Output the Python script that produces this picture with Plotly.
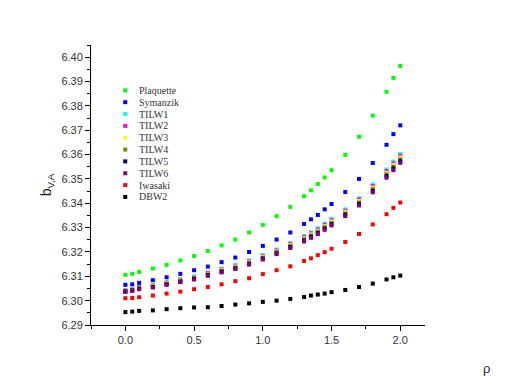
import plotly.graph_objects as go

rho = [0.0, 0.05, 0.1, 0.2, 0.3, 0.4, 0.5, 0.6, 0.7, 0.8, 0.9, 1.0, 1.1, 1.2,
       1.3, 1.35, 1.4, 1.45, 1.5, 1.6, 1.7, 1.8, 1.9, 1.95, 2.0]

plaquette = [6.3106, 6.3110, 6.3118, 6.3132, 6.3147, 6.3165, 6.3183, 6.3204, 6.3227,
             6.3251, 6.3280, 6.3311, 6.3347, 6.3385, 6.3429, 6.3453, 6.3479, 6.3506,
             6.3536, 6.3599, 6.3673, 6.3760, 6.3858, 6.3915, 6.3964]
symanzik = [6.3065, 6.3067, 6.3073, 6.3084, 6.3096, 6.3110, 6.3125, 6.3140, 6.3158,
            6.3177, 6.3200, 6.3225, 6.3251, 6.3280, 6.3315, 6.3334, 6.3352, 6.3375,
            6.3397, 6.3446, 6.3500, 6.3565, 6.3640, 6.3684, 6.3720]
tilw1 = [6.3044, 6.3048, 6.3056, 6.3064, 6.3076, 6.3088, 6.3100, 6.3116, 6.3131,
         6.3146, 6.3165, 6.3187, 6.3210, 6.3236, 6.3265, 6.3281, 6.3297, 6.3316,
         6.3335, 6.3375, 6.3421, 6.3477, 6.3539, 6.3571, 6.3602]
tilw2 = [6.3042, 6.3046, 6.3054, 6.3062, 6.3074, 6.3086, 6.3097, 6.3113, 6.3128,
         6.3143, 6.3162, 6.3183, 6.3206, 6.3232, 6.3261, 6.3276, 6.3292, 6.3311,
         6.3330, 6.3369, 6.3415, 6.3471, 6.3532, 6.3564, 6.3595]
tilw3 = [6.3041, 6.3045, 6.3052, 6.3060, 6.3072, 6.3083, 6.3095, 6.3110, 6.3125,
         6.3140, 6.3158, 6.3180, 6.3202, 6.3228, 6.3256, 6.3272, 6.3287, 6.3306,
         6.3325, 6.3364, 6.3409, 6.3464, 6.3525, 6.3557, 6.3588]
tilw4 = [6.3039, 6.3043, 6.3051, 6.3058, 6.3069, 6.3081, 6.3092, 6.3108, 6.3122,
         6.3136, 6.3155, 6.3176, 6.3199, 6.3224, 6.3252, 6.3267, 6.3283, 6.3301,
         6.3319, 6.3358, 6.3403, 6.3458, 6.3519, 6.3550, 6.3580]
tilw5 = [6.3038, 6.3042, 6.3049, 6.3056, 6.3067, 6.3078, 6.3090, 6.3105, 6.3119,
         6.3133, 6.3151, 6.3173, 6.3195, 6.3220, 6.3247, 6.3263, 6.3278, 6.3296,
         6.3314, 6.3353, 6.3397, 6.3451, 6.3512, 6.3543, 6.3573]
tilw6 = [6.3036, 6.3040, 6.3047, 6.3054, 6.3065, 6.3076, 6.3087, 6.3102, 6.3116,
         6.3130, 6.3148, 6.3169, 6.3191, 6.3216, 6.3243, 6.3258, 6.3273, 6.3291,
         6.3309, 6.3347, 6.3391, 6.3445, 6.3505, 6.3536, 6.3566]
iwasaki = [6.3010, 6.3011, 6.3014, 6.3021, 6.3029, 6.3037, 6.3047, 6.3056, 6.3067,
           6.3080, 6.3092, 6.3109, 6.3125, 6.3141, 6.3163, 6.3174, 6.3187, 6.3199,
           6.3213, 6.3241, 6.3274, 6.3313, 6.3355, 6.3381, 6.3403]
dbw2 = [6.2953, 6.2955, 6.2958, 6.2960, 6.2965, 6.2969, 6.2972, 6.2973, 6.2978,
        6.2984, 6.2989, 6.2995, 6.3000, 6.3007, 6.3015, 6.3021, 6.3025, 6.3029,
        6.3035, 6.3044, 6.3056, 6.3070, 6.3087, 6.3096, 6.3103]

names = ["Plaquette", "Symanzik", "TILW1", "TILW2", "TILW3", "TILW4", "TILW5", "TILW6",
         "Iwasaki", "DBW2"]
colors = ["#00ff00", "#0000ff", "#00ffff", "#ff00ff", "#ffff00", "#808000", "#000080",
          "#800080", "#ff0000", "#000000"]
series = [plaquette, symanzik, tilw1, tilw2, tilw3, tilw4, tilw5, tilw6, iwasaki, dbw2]

fig = go.Figure()
for name, color, ys in zip(names, colors, series):
    fig.add_trace(
        go.Scatter(x=rho, y=ys, mode="markers", name=name,
                   marker=dict(symbol="square", size=4, color=color, line=dict(width=0)))
    )

# hand-drawn legend (plotly's legend rows are too tall for this spacing)
for i, (name, color) in enumerate(zip(names, colors)):
    yy = 0.838 - i * 0.0423
    fig.add_shape(type="rect", xref="paper", yref="paper",
                  x0=0.0965, x1=0.1085, y0=yy - 0.0071, y1=yy + 0.0071,
                  fillcolor=color, line=dict(width=0))
    fig.add_annotation(x=0.138, y=yy, xref="paper", yref="paper", text=name,
                       showarrow=False, xanchor="left", yanchor="middle",
                       font=dict(family="Liberation Serif", size=10, color="#333"))

fig.add_annotation(x=1.183, y=-0.154, xref="paper", yref="paper", text="ρ",
                   showarrow=False, xanchor="center", yanchor="middle",
                   font=dict(family="Liberation Sans", size=13, color="#222"))

axis_font = dict(family="Liberation Sans", size=11, color="#333")
fig.update_xaxes(
    range=[-0.25, 2.18], dtick=0.5, tick0=0, tickformat=".1f",
    showline=True, linecolor="black", linewidth=1, showgrid=False, zeroline=False,
    ticks="outside", ticklen=5, tickcolor="black", tickfont=axis_font,
    minor=dict(dtick=0.25, ticks="outside", ticklen=3, tickcolor="black", showgrid=False),
)
fig.update_yaxes(
    range=[6.29, 6.405], dtick=0.01, tick0=6.29, tickformat=".2f",
    showline=True, linecolor="black", linewidth=1, showgrid=False, zeroline=False,
    ticks="outside", ticklen=5, tickcolor="black", tickfont=axis_font,
    minor=dict(dtick=0.005, ticks="outside", ticklen=3, tickcolor="black", showgrid=False),
    title=dict(text="b<sub>V,A</sub>", standoff=6,
               font=dict(family="Liberation Sans", size=14, color="#222")),
)
# page body adds an 8px offset, so the figure is sized to fit inside the window
fig.update_layout(
    width=497, height=382,
    margin=dict(l=83, r=80, t=37, b=65),
    paper_bgcolor="white", plot_bgcolor="white",
    showlegend=False,
)

fig.write_html("out.html")
